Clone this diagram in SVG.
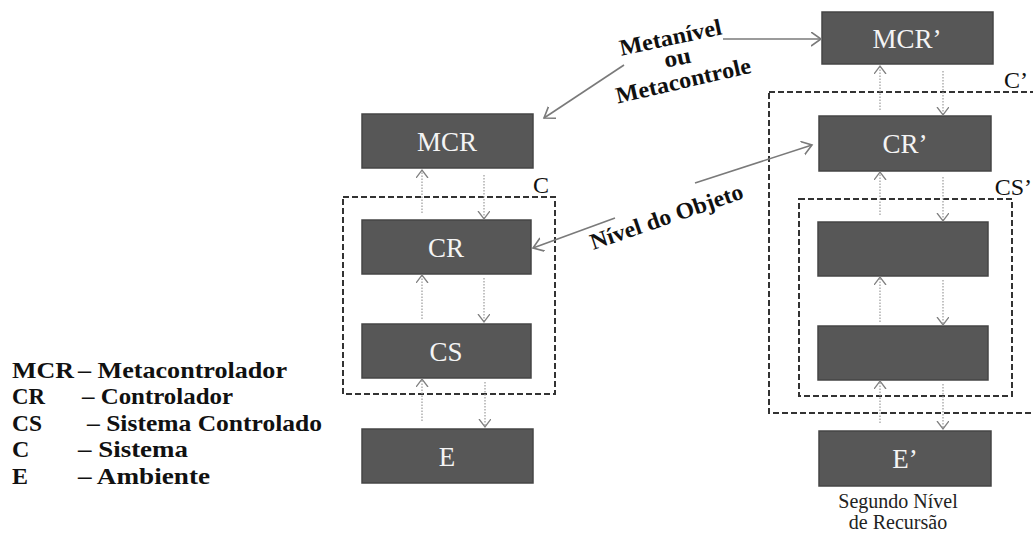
<svg xmlns="http://www.w3.org/2000/svg" width="1033" height="537" viewBox="0 0 1033 537">
  <style>
    .box { fill: #575757; stroke: #454545; stroke-width: 1.5; }
    .serif { font-family: 'Liberation Serif', 'DejaVu Serif', serif; }
    .boxlabel { font-size: 27px; fill: #f4f4f4; text-anchor: middle; }
    .frame { fill: none; stroke: #333; stroke-width: 2; stroke-dasharray: 6 3; }
    .framelabel { font-size: 24px; fill: #111; }
    .flow { fill: none; stroke: #9a9a9a; stroke-width: 1.2; stroke-dasharray: 1.5 1.5; marker-end: url(#open); }
    .pointer { fill: none; stroke: #7a7a7a; stroke-width: 1.6; marker-end: url(#openBig); }
    .tag { font-size: 23px; font-weight: bold; fill: #111; text-anchor: middle; }
    .legend { font-size: 24px; font-weight: bold; fill: #111; }
    .caption { font-size: 20px; fill: #222; text-anchor: middle; }
  </style>
  <defs>
    <marker id="open" markerUnits="userSpaceOnUse" markerWidth="14" markerHeight="14" refX="8" refY="6" orient="auto">
      <path d="M0,0 L8,6 L0,12" fill="none" stroke="#808080" stroke-width="1.3"/>
    </marker>
    <marker id="openBig" markerUnits="userSpaceOnUse" markerWidth="16" markerHeight="16" refX="10" refY="7" orient="auto">
      <path d="M0,0 L10,7 L0,14" fill="none" stroke="#7a7a7a" stroke-width="1.6"/>
    </marker>
  </defs>
  <rect width="1033" height="537" fill="#ffffff"/>

  <!-- system frames -->
  <g id="frame-C">
    <rect class="frame" x="343" y="197" width="212" height="197"/>
    <text class="serif framelabel" x="533" y="193">C</text>
  </g>
  <g id="frame-C2">
    <rect class="frame" x="769" y="92" width="272" height="321"/>
    <text class="serif framelabel" x="1028" y="88" text-anchor="end">C’</text>
  </g>
  <g id="frame-CS2">
    <rect class="frame" x="799" y="199" width="213" height="197"/>
    <text class="serif framelabel" x="1032" y="195" text-anchor="end">CS’</text>
  </g>

  <!-- first level -->
  <g id="MCR">
    <rect class="box" x="362" y="114" width="171" height="54"/>
    <text class="serif boxlabel" x="447" y="151">MCR</text>
  </g>
  <g id="CR">
    <rect class="box" x="362" y="220" width="169" height="54"/>
    <text class="serif boxlabel" x="446" y="257">CR</text>
  </g>
  <g id="CS">
    <rect class="box" x="362" y="324" width="169" height="54"/>
    <text class="serif boxlabel" x="446" y="361">CS</text>
  </g>
  <g id="E">
    <rect class="box" x="362" y="429" width="171" height="54"/>
    <text class="serif boxlabel" x="447" y="466">E</text>
  </g>

  <!-- second level of recursion -->
  <g id="MCR2">
    <rect class="box" x="822" y="12" width="171" height="52"/>
    <text class="serif boxlabel" x="907" y="48">MCR’</text>
  </g>
  <g id="CR2">
    <rect class="box" x="819" y="116" width="172" height="55"/>
    <text class="serif boxlabel" x="905" y="153">CR’</text>
  </g>
  <g id="CR-inner">
    <rect class="box" x="818" y="222" width="170" height="54"/>
  </g>
  <g id="CS-inner">
    <rect class="box" x="818" y="326" width="170" height="54"/>
  </g>
  <g id="E2">
    <rect class="box" x="819" y="431" width="172" height="55"/>
    <text class="serif boxlabel" x="905" y="468">E’</text>
  </g>

  <!-- connectors -->
  <g id="connectors">
    <path class="flow" d="M422,213 V170"/>
    <path class="flow" d="M484,175 V219"/>
    <path class="flow" d="M422,319 V275"/>
    <path class="flow" d="M484,278 V322"/>
    <path class="flow" d="M422,421 V379"/>
    <path class="flow" d="M485,382 V427"/>

    <path class="flow" d="M880,110 V66"/>
    <path class="flow" d="M943,71 V115"/>
    <path class="flow" d="M880,215 V172"/>
    <path class="flow" d="M943,177 V221"/>
    <path class="flow" d="M880,322 V277"/>
    <path class="flow" d="M943,280 V325"/>
    <path class="flow" d="M880,423 V381"/>
    <path class="flow" d="M943,384 V429"/>

    <path class="pointer" d="M624,65 L544,118"/>
    <path class="pointer" d="M723,39 L821,39"/>
    <path class="pointer" d="M615,218 L533,248"/>
    <path class="pointer" d="M695,183 L812,145"/>
  </g>

  <!-- level names -->
  <g id="meta-label">
    <text class="serif tag" transform="translate(672,45) rotate(-12)" textLength="104" lengthAdjust="spacingAndGlyphs">Metanível</text>
    <text class="serif tag" transform="translate(679,65) rotate(-12)" textLength="27" lengthAdjust="spacingAndGlyphs">ou</text>
    <text class="serif tag" transform="translate(685,88) rotate(-13)" textLength="138" lengthAdjust="spacingAndGlyphs">Metacontrole</text>
  </g>
  <g id="object-label">
    <text class="serif tag" transform="translate(669,224) rotate(-19)" textLength="160" lengthAdjust="spacingAndGlyphs">Nível do Objeto</text>
  </g>

  <g id="caption">
    <text class="serif caption" x="898" y="508">Segundo Nível</text>
    <text class="serif caption" x="898" y="529">de Recursão</text>
  </g>

  <!-- legend -->
  <g id="legend">
    <text class="serif legend" x="12" y="378" textLength="62" lengthAdjust="spacingAndGlyphs">MCR</text>
    <text class="serif legend" x="78" y="378" textLength="209" lengthAdjust="spacingAndGlyphs">– Metacontrolador</text>
    <text class="serif legend" x="12" y="404" textLength="33" lengthAdjust="spacingAndGlyphs">CR</text>
    <text class="serif legend" x="82" y="404" textLength="151" lengthAdjust="spacingAndGlyphs">– Controlador</text>
    <text class="serif legend" x="12" y="431" textLength="30" lengthAdjust="spacingAndGlyphs">CS</text>
    <text class="serif legend" x="87" y="431" textLength="235" lengthAdjust="spacingAndGlyphs">– Sistema Controlado</text>
    <text class="serif legend" x="12" y="457">C</text>
    <text class="serif legend" x="78" y="457" textLength="110" lengthAdjust="spacingAndGlyphs">– Sistema</text>
    <text class="serif legend" x="12" y="484">E</text>
    <text class="serif legend" x="78" y="484" textLength="132" lengthAdjust="spacingAndGlyphs">– Ambiente</text>
  </g>
</svg>
